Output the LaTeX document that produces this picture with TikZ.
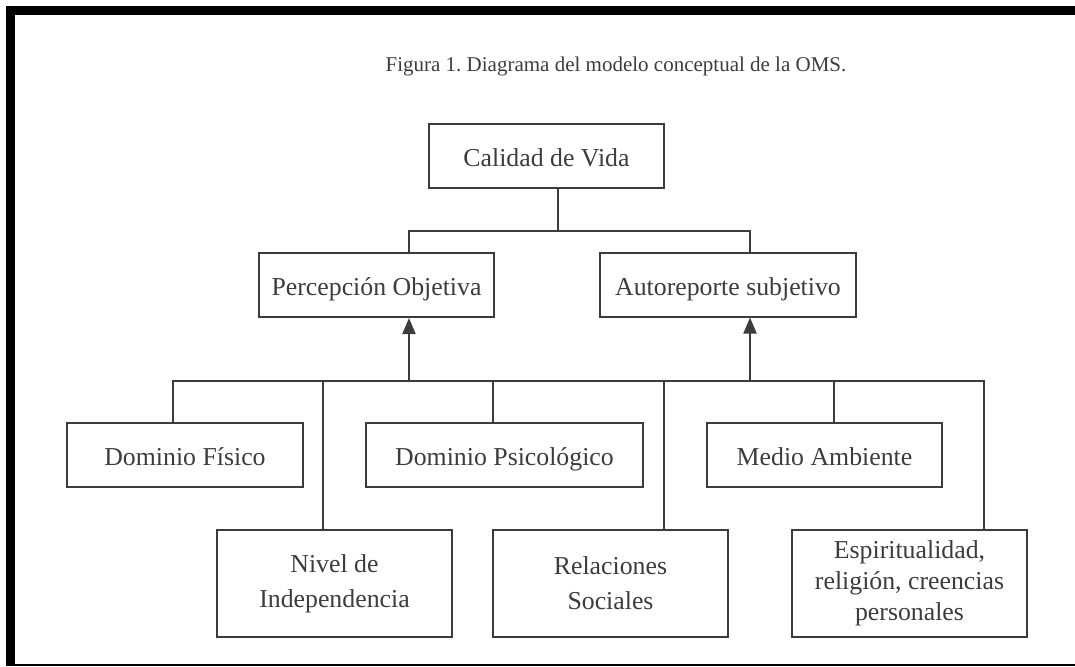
\documentclass[tikz,border=0pt]{standalone}
\usepackage{fontspec}
\setmainfont{Liberation Serif}
\usepackage{xcolor}
\usepackage{tikz}
\usetikzlibrary{arrows.meta, positioning}
\frenchspacing
\definecolor{ink}{HTML}{3C3C3C}
\tikzstyle{box} = [rectangle, minimum height=32pt, inner sep=0pt, text height=12pt, text depth=1.5pt, text centered, draw=ink, line width=1pt, text=ink, font=\fontsize{12.9}{15}\selectfont]
\tikzstyle{tallbox} = [rectangle, minimum height=53.5pt, inner sep=0pt, align=center, draw=ink, line width=1pt, text=ink, font=\fontsize{12.9}{17.5}\selectfont]
\tikzstyle{link} = [draw=ink, line width=1pt]
\tikzstyle{arrow} = [link, -{Triangle[width=6.5pt,length=8pt]}]

\begin{document}
\begin{tikzpicture}[x=0.5pt, y=-0.5pt]
    \useasboundingbox (0,0) rectangle (1075,666);
    % frame
    \fill[black] (6,6) rectangle (1075,15);
    \fill[black] (6,6) rectangle (15,666);
    \fill[black] (6,663.5) rectangle (1075,666);

    \node (title) at (616,66) [text=ink, font=\fontsize{10.5}{12}\selectfont] {Figura 1. Diagrama del modelo conceptual de la OMS.};

    \node (cal) at (546.5,156) [box, minimum width=117.5pt] {Calidad de Vida};
    \node (perc) at (376.5,285) [box, minimum width=117.5pt] {Percepción Objetiva};
    \node (auto) at (728,284.5) [box, minimum width=128pt] {Autoreporte subjetivo};

    \node (fis) at (185,455) [box, minimum width=118pt] {Dominio Físico};
    \node (psi) at (504.5,455) [box, minimum width=138.5pt] {Dominio Psicológico};
    \node (med) at (824.5,455) [box, minimum width=117.5pt] {Medio Ambiente};
    \node (niv) at (334.5,583.5) [tallbox, minimum width=117.5pt] {Nivel de\\Independencia};
    \node (rel) at (610.5,583.5) [tallbox, minimum width=117.5pt] {Relaciones\\Sociales};
    \node (esp) at (909.5,583) [tallbox, minimum width=117.5pt, font=\fontsize{12.9}{15.5}\selectfont] {Espiritualidad,\\religión, creencias\\personales};

    % junctions
    \coordinate (top) at (558,231);
    \coordinate (pjoin) at (409,231);
    \coordinate (ajoin) at (750,231);
    \coordinate (busl) at (173,381);
    \coordinate (busr) at (984,381);

    \draw [link] (top |- cal.south) -- (top);
    \draw [link] (pjoin |- perc.north) -- (pjoin) -- (ajoin) -- (ajoin |- auto.north);
    \draw [link] (busl |- fis.north) -- (busl) -- (busr) -- (busr |- esp.north);
    \draw [link] (niv.north -| 323,0) -- (323,381);
    \draw [link] (psi.north -| 493,0) -- (493,381);
    \draw [link] (rel.north -| 664,0) -- (664,381);
    \draw [link] (med.north -| 834,0) -- (834,381);
    \draw [arrow] (pjoin |- busl) -- (pjoin |- perc.south);
    \draw [arrow] (ajoin |- busl) -- (ajoin |- auto.south);
\end{tikzpicture}
\end{document}
